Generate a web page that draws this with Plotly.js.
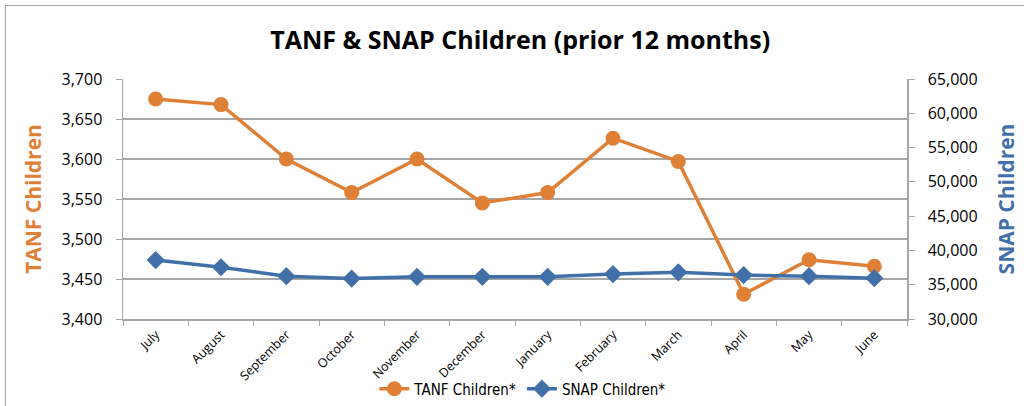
<!DOCTYPE html>
<html>
<head>
<meta charset="utf-8">
<script src="https://cdn.plot.ly/plotly-3.0.1.min.js"></script>
<style>
html,body{margin:0;padding:0;background:#fff;}
#wrap{position:relative;width:1024px;height:406px;overflow:hidden;}
#chart{width:1024px;height:406px;}
#border{position:absolute;left:5px;top:5px;width:1030px;height:410px;border:1px solid #a6a6a6;pointer-events:none;box-sizing:border-box;}
</style>
</head>
<body>
<div id="wrap"><div id="chart"></div><div id="border"></div></div>
<script>
const months = ["July","August","September","October","November","December","January","February","March","April","May","June"];
const tanfChildren = [3675, 3668, 3600, 3558, 3600, 3545, 3558, 3626, 3597, 3431, 3474, 3466];
const snapChildren = [38600, 37550, 36250, 35900, 36150, 36150, 36150, 36550, 36800, 36400, 36250, 35950];

const orange = '#DF8037';
const blue = '#4170A9';
const font = 'Open Sans, Liberation Sans, sans-serif';

const traces = [
  {x: months, y: tanfChildren, name: 'TANF Children*', type: 'scatter', mode: 'lines+markers',
   line: {color: orange, width: 3.5}, marker: {symbol: 'circle', size: 15, color: orange}, yaxis: 'y'},
  {x: months, y: snapChildren, name: 'SNAP Children*', type: 'scatter', mode: 'lines+markers',
   line: {color: blue, width: 3.5}, marker: {symbol: 'diamond', size: 14, color: blue}, yaxis: 'y2'}
];

const layout = {
  width: 1024, height: 406,
  margin: {l: 123, r: 117, t: 79, b: 87, pad: 0, autoexpand: false},
  paper_bgcolor: '#fff', plot_bgcolor: '#fff',
  font: {family: font, size: 14, color: '#000'},
  title: {text: '<b>TANF & SNAP Children (prior 12 months)</b>', x: 0.508, xanchor: 'center', y: 0.9, yanchor: 'middle',
          font: {family: font, size: 25, color: '#000'}},
  showlegend: true,
  legend: {orientation: 'h', x: 0.51, xanchor: 'center', yref: 'container', y: 0.042, yanchor: 'middle',
           bgcolor: 'rgba(0,0,0,0)',
           font: {family: 'Liberation Sans Narrow, DejaVu Sans Condensed, sans-serif', size: 15, color: '#000'}, traceorder: 'normal', itemwidth: 30},
  xaxis: {type: 'category', range: [-0.5, 11.5], tickangle: -45, tickfont: {size: 12.5, family: font}, showgrid: false, automargin: false,
          ticks: 'outside', ticklen: 5, tickcolor: '#a6a6a6', tickson: 'boundaries', ticklabelstandoff: 2,
          showline: true, linecolor: '#a6a6a6', linewidth: 1.5, fixedrange: true},
  yaxis: {range: [3400, 3700], dtick: 50, tickformat: ',', gridcolor: '#a6a6a6', gridwidth: 1.3, automargin: false,
          showline: true, linecolor: '#a6a6a6', linewidth: 1.5, ticks: 'outside', ticklen: 6, tickcolor: '#a6a6a6',
          tickfont: {size: 16, family: font}, zeroline: false, ticklabelstandoff: 10,
          title: {text: '<b>TANF Children</b>', font: {size: 21, color: orange, family: font}, standoff: 14}},
  yaxis2: {range: [30000, 65000], dtick: 5000, tickformat: ',', overlaying: 'y', side: 'right', showgrid: false, automargin: false,
          showline: true, linecolor: '#a6a6a6', linewidth: 1.5, ticks: 'outside', ticklen: 6, tickcolor: '#a6a6a6',
          tickfont: {size: 16, family: font}, zeroline: false, ticklabelstandoff: 10,
          title: {text: '<b>SNAP Children</b>', font: {size: 21, color: blue, family: font}, standoff: 22}}
};

Plotly.newPlot('chart', traces, layout, {displayModeBar: false, staticPlot: true});
</script>
</body>
</html>
